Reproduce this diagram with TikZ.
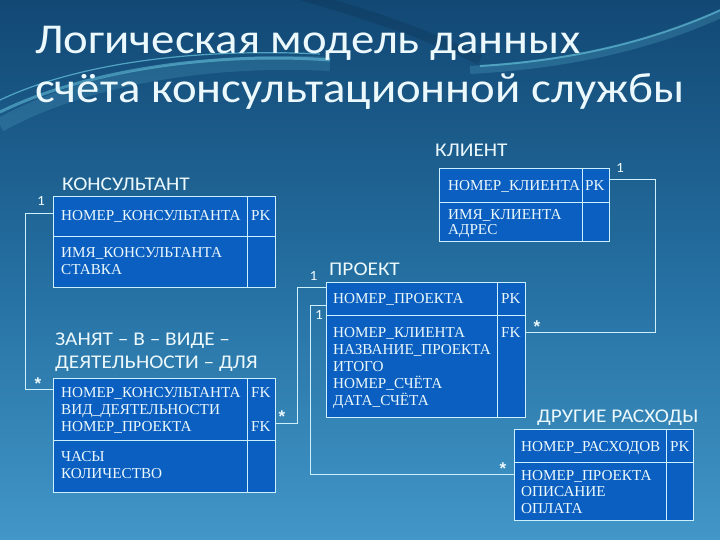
\documentclass[tikz,border=0pt]{standalone}
\usepackage{fontspec}
\setmainfont{Liberation Serif}
\newfontfamily\titlefont[FakeStretch=1.1]{Carlito}
\newfontfamily\boxfont{Liberation Serif}
\newfontfamily\starfont{Liberation Sans}
\usetikzlibrary{calc}
\definecolor{bgtop}{RGB}{18,72,116}
\definecolor{bgmid}{RGB}{36,110,160}
\definecolor{bgbot}{RGB}{66,150,200}
\definecolor{boxfill}{RGB}{11,95,192}
\definecolor{lineclr}{RGB}{205,240,255}
\definecolor{swoosh}{RGB}{120,220,240}
\definecolor{txt}{RGB}{235,248,252}
\begin{document}
\begin{tikzpicture}[x=1pt,y=-1pt,
  ent/.style={draw=lineclr, fill=boxfill, line width=0.8pt, inner sep=0pt, anchor=north west},
  grid/.style={draw=lineclr, line width=0.8pt},
  conn/.style={draw=lineclr, line width=0.9pt},
  rt/.style={anchor=west, inner sep=0pt, text height=10pt, text depth=0pt, text=txt, font=\boxfont\fontsize{15.2}{16}\selectfont},
  etitle/.style={anchor=west, inner sep=0pt, text height=12.5pt, text depth=0pt, text=txt, font=\titlefont\fontsize{19.4}{21}\selectfont},
  mtitle/.style={anchor=base west, inner sep=0pt, text=txt, font=\titlefont\fontsize{42.5}{48}\selectfont},
  card/.style={inner sep=0pt, text=txt, font=\titlefont\fontsize{14}{14}\selectfont},
  star/.style={inner sep=0pt, text=txt, font=\starfont\bfseries\fontsize{17}{17}\selectfont}
]
\path[use as bounding box] (0,0) rectangle (720,540);
\shade[top color=bgtop, bottom color=bgbot, middle color=bgmid] (0,0) rectangle (720,540);
% decorative swooshes
\draw[line width=10pt, color=bgtop!60!black, opacity=0.25] (300,-5) .. controls (370,15) and (430,35) .. (480,60);
\draw[line width=14pt, color=swoosh, opacity=0.15] (0,125) .. controls (90,75) and (220,58) .. (330,64);
\draw[line width=3pt, color=swoosh, opacity=0.45] (0,112) .. controls (90,68) and (220,52) .. (330,60);
\draw[line width=1.2pt, color=swoosh, opacity=0.6] (0,100) .. controls (80,62) and (200,48) .. (320,54);
\draw[line width=8pt, color=swoosh, opacity=0.18] (470,70) .. controls (580,64) and (660,42) .. (725,12);
\draw[line width=2pt, color=swoosh, opacity=0.5] (480,66) .. controls (580,60) and (660,38) .. (725,8);

% main title
\node[mtitle] (t1) at (35,54) {Логическая модель данных};
\node[mtitle] (t2) at (35,103) {счёта консультационной службы};

% КОНСУЛЬТАНТ
\node[etitle] (konsT) at (62,184) {КОНСУЛЬТАНТ};
\node[ent, minimum width=222pt, minimum height=91pt] (kons) at (53,196) {};
\draw[grid] (247,196) -- (247,287);
\draw[grid] (53,236) -- (275,236);
\node[rt] (k1) at (61,216) {НОМЕР\_КОНСУЛЬТАНТА};
\node[rt] (kpk) at (251,216) {PK};
\node[rt] (k2) at (61,253) {ИМЯ\_КОНСУЛЬТАНТА};
\node[rt] (k3) at (61,269) {СТАВКА};

% КЛИЕНТ
\node[etitle] (kliT) at (435,150) {КЛИЕНТ};
\node[ent, minimum width=170pt, minimum height=73pt] (kli) at (439,168) {};
\draw[grid] (582,168) -- (582,241);
\draw[grid] (439,202) -- (609,202);
\node[rt] (l1) at (448,185.5) {НОМЕР\_КЛИЕНТА};
\node[rt] (lpk) at (585,185.5) {PK};
\node[rt] (l2) at (448,214) {ИМЯ\_КЛИЕНТА};
\node[rt] (l3) at (448,229.5) {АДРЕС};

% ПРОЕКТ
\node[etitle] (prT) at (329,269) {ПРОЕКТ};
\node[ent, minimum width=199pt, minimum height=135pt] (pr) at (325.5,282) {};
\draw[grid] (497,282) -- (497,417);
\draw[grid] (325.5,315) -- (524.5,315);
\node[rt] (p1) at (333,298.5) {НОМЕР\_ПРОЕКТА};
\node[rt] (ppk) at (501,298.5) {PK};
\node[rt] (p2) at (333,332) {НОМЕР\_КЛИЕНТА};
\node[rt] (pfk) at (501,332) {FK};
\node[rt] (p3) at (333,349) {НАЗВАНИЕ\_ПРОЕКТА};
\node[rt] (p4) at (333,366) {ИТОГО};
\node[rt] (p5) at (333,383) {НОМЕР\_СЧЁТА};
\node[rt] (p6) at (333,400.5) {ДАТА\_СЧЁТА};

% ЗАНЯТ - В - ВИДЕ - ДЕЯТЕЛЬНОСТИ - ДЛЯ
\node[etitle] (zT1) at (55,339.5) {ЗАНЯТ – В – ВИДЕ –};
\node[etitle] (zT2) at (55,362) {ДЕЯТЕЛЬНОСТИ – ДЛЯ};
\node[ent, minimum width=222pt, minimum height=114pt] (zan) at (53,378) {};
\draw[grid] (247,378) -- (247,492);
\draw[grid] (53,440.5) -- (275,440.5);
\node[rt] (z1) at (61,392.5) {НОМЕР\_КОНСУЛЬТАНТА};
\node[rt] (zfk1) at (251,392.5) {FK};
\node[rt] (z2) at (61,409) {ВИД\_ДЕЯТЕЛЬНОСТИ};
\node[rt] (z3) at (61,426) {НОМЕР\_ПРОЕКТА};
\node[rt] (zfk2) at (251,426) {FK};
\node[rt] (z4) at (61,456.5) {ЧАСЫ};
\node[rt] (z5) at (61,473) {КОЛИЧЕСТВО};

% ДРУГИЕ РАСХОДЫ
\node[etitle] (dT) at (537,416.5) {ДРУГИЕ РАСХОДЫ};
\node[ent, minimum width=179pt, minimum height=91pt] (dr) at (513.5,428.5) {};
\draw[grid] (666,428.5) -- (666,519.5);
\draw[grid] (513.5,462.3) -- (692.5,462.3);
\node[rt] (d1) at (521,446) {НОМЕР\_РАСХОДОВ};
\node[rt] (dpk) at (670,446) {PK};
\node[rt] (d2) at (521,475) {НОМЕР\_ПРОЕКТА};
\node[rt] (d3) at (521,491) {ОПИСАНИЕ};
\node[rt] (d4) at (521,508) {ОПЛАТА};

% connectors
\draw[conn] ([yshift=-17.5pt]kons.north west) -- ++(-28,0) |- ([yshift=-11pt]zan.north west);
\draw[conn] ([yshift=-45pt]zan.north east) -- ++(22,0) |- ([yshift=-5.5pt]pr.north west);
\draw[conn] ([yshift=-23pt]pr.north west) -- ++(-15.5,0) |- ([yshift=-46pt]dr.north west);
\draw[conn] ([yshift=-50.5pt]pr.north east) -- ++(130,0) |- ([yshift=-11pt]kli.north east);

% cardinalities
\node[card] (c1a) at (41,201) {1};
\node[star] (c1b) at (38,384) {*};
\node[star] (c2a) at (282,417) {*};
\node[card] (c2b) at (313.5,275.5) {1};
\node[card] (c3a) at (319,315) {1};
\node[star] (c3b) at (503,469) {*};
\node[star] (c4a) at (537,327) {*};
\node[card] (c4b) at (620,168) {1};
\end{tikzpicture}
\end{document}
